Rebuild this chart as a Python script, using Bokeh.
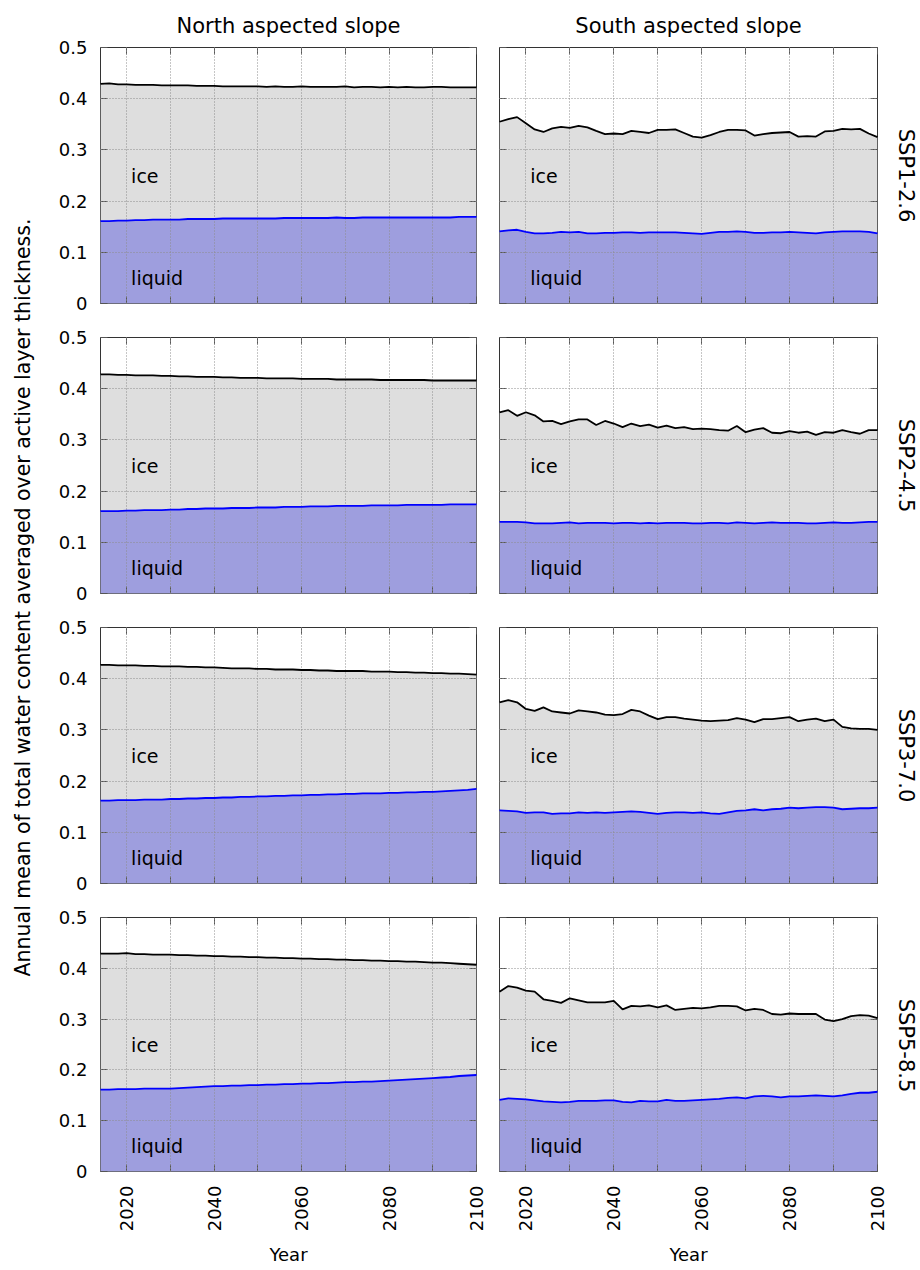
import numpy as np
from bokeh.plotting import figure
from bokeh.layouts import row, column
from bokeh.models import (Range1d, FixedTicker, LinearAxis, Label,
                          ColumnDataSource)
from bokeh.core.properties import value
from bokeh.embed import file_html
from bokeh.resources import INLINE

# ---------------- data ----------------
years = list(range(2014, 2101, 2))
scenarios = ["SSP1-2.6", "SSP2-4.5", "SSP3-7.0", "SSP5-8.5"]
slopes = ["North aspected slope", "South aspected slope"]
x_ticks = [2020, 2040, 2060, 2080, 2100]
x_minor_ticks = [2030, 2050, 2070, 2090]
y_ticks = [0, 0.1, 0.2, 0.3, 0.4, 0.5]
y_label = "Annual mean of total water content averaged over active layer thickness."
x_label = "Year"
area_labels = ["ice", "liquid"]

# SSP1-2.6
north_total_126 = [0.429, 0.430, 0.428, 0.428, 0.427, 0.427, 0.427, 0.426, 0.426, 0.426, 0.426,
                   0.425, 0.425, 0.425, 0.424, 0.424, 0.424, 0.424, 0.424, 0.423, 0.424, 0.423,
                   0.423, 0.424, 0.423, 0.423, 0.423, 0.423, 0.424, 0.422, 0.423, 0.423, 0.422,
                   0.423, 0.422, 0.423, 0.422, 0.422, 0.423, 0.423, 0.422, 0.422, 0.422, 0.422]
north_liquid_126 = [0.161, 0.161, 0.162, 0.162, 0.163, 0.163, 0.164, 0.164, 0.164, 0.164, 0.165,
                    0.165, 0.165, 0.165, 0.166, 0.166, 0.166, 0.166, 0.166, 0.166, 0.166, 0.167,
                    0.167, 0.167, 0.167, 0.167, 0.167, 0.168, 0.167, 0.167, 0.168, 0.168, 0.168,
                    0.168, 0.168, 0.168, 0.168, 0.168, 0.168, 0.168, 0.168, 0.169, 0.169, 0.169]
south_total_126 = [0.355, 0.360, 0.364, 0.352, 0.340, 0.335, 0.342, 0.345, 0.343, 0.347, 0.344,
                   0.337, 0.331, 0.332, 0.331, 0.337, 0.335, 0.333, 0.339, 0.339, 0.340, 0.333,
                   0.326, 0.324, 0.329, 0.335, 0.339, 0.339, 0.338, 0.328, 0.331, 0.333, 0.334,
                   0.335, 0.326, 0.327, 0.326, 0.336, 0.337, 0.341, 0.340, 0.341, 0.332, 0.325]
south_liquid_126 = [0.141, 0.143, 0.144, 0.140, 0.137, 0.137, 0.138, 0.140, 0.139, 0.140, 0.137,
                    0.137, 0.138, 0.138, 0.139, 0.139, 0.138, 0.139, 0.139, 0.139, 0.139, 0.138,
                    0.137, 0.136, 0.138, 0.140, 0.140, 0.141, 0.140, 0.138, 0.138, 0.139, 0.139,
                    0.140, 0.139, 0.138, 0.137, 0.139, 0.140, 0.141, 0.141, 0.141, 0.140, 0.137]

# SSP2-4.5
north_total_245 = [0.428, 0.428, 0.427, 0.427, 0.426, 0.426, 0.426, 0.425, 0.425, 0.424, 0.424,
                   0.423, 0.423, 0.423, 0.422, 0.422, 0.421, 0.421, 0.421, 0.420, 0.420, 0.420,
                   0.420, 0.419, 0.419, 0.419, 0.419, 0.418, 0.418, 0.418, 0.418, 0.418, 0.417,
                   0.417, 0.417, 0.417, 0.417, 0.417, 0.416, 0.416, 0.416, 0.416, 0.416, 0.416]
north_liquid_245 = [0.161, 0.161, 0.161, 0.162, 0.162, 0.163, 0.163, 0.163, 0.164, 0.164, 0.165,
                    0.165, 0.166, 0.166, 0.166, 0.167, 0.167, 0.167, 0.168, 0.168, 0.168, 0.169,
                    0.169, 0.169, 0.170, 0.170, 0.170, 0.171, 0.171, 0.171, 0.171, 0.172, 0.172,
                    0.172, 0.172, 0.173, 0.173, 0.173, 0.173, 0.173, 0.174, 0.174, 0.174, 0.174]
south_total_245 = [0.354, 0.358, 0.347, 0.354, 0.348, 0.336, 0.337, 0.331, 0.336, 0.340, 0.340,
                   0.329, 0.337, 0.332, 0.325, 0.332, 0.327, 0.330, 0.324, 0.328, 0.323, 0.325,
                   0.321, 0.322, 0.321, 0.319, 0.318, 0.327, 0.315, 0.320, 0.323, 0.314, 0.313,
                   0.317, 0.314, 0.316, 0.310, 0.315, 0.314, 0.319, 0.315, 0.312, 0.319, 0.319]
south_liquid_245 = [0.140, 0.140, 0.140, 0.139, 0.137, 0.137, 0.137, 0.138, 0.139, 0.137, 0.138,
                    0.138, 0.138, 0.137, 0.138, 0.138, 0.137, 0.138, 0.137, 0.138, 0.138, 0.138,
                    0.137, 0.137, 0.138, 0.138, 0.137, 0.139, 0.138, 0.137, 0.138, 0.139, 0.138,
                    0.138, 0.138, 0.137, 0.137, 0.138, 0.139, 0.138, 0.138, 0.139, 0.140, 0.140]

# SSP3-7.0
north_total_370 = [0.427, 0.427, 0.426, 0.426, 0.426, 0.425, 0.425, 0.424, 0.424, 0.424, 0.423,
                   0.423, 0.422, 0.422, 0.421, 0.420, 0.420, 0.420, 0.419, 0.419, 0.418, 0.418,
                   0.418, 0.417, 0.417, 0.416, 0.416, 0.415, 0.415, 0.415, 0.415, 0.414, 0.414,
                   0.414, 0.413, 0.413, 0.412, 0.412, 0.411, 0.411, 0.410, 0.410, 0.409, 0.408]
north_liquid_370 = [0.162, 0.162, 0.163, 0.163, 0.163, 0.164, 0.164, 0.164, 0.165, 0.165, 0.166,
                    0.166, 0.167, 0.167, 0.168, 0.168, 0.169, 0.169, 0.170, 0.170, 0.171, 0.171,
                    0.172, 0.172, 0.173, 0.173, 0.174, 0.174, 0.175, 0.175, 0.176, 0.176, 0.176,
                    0.177, 0.177, 0.178, 0.178, 0.179, 0.179, 0.180, 0.181, 0.182, 0.183, 0.185]
south_total_370 = [0.354, 0.358, 0.354, 0.341, 0.337, 0.344, 0.336, 0.334, 0.332, 0.338, 0.336,
                   0.334, 0.330, 0.329, 0.331, 0.339, 0.336, 0.328, 0.321, 0.325, 0.325, 0.322,
                   0.320, 0.318, 0.317, 0.318, 0.319, 0.323, 0.320, 0.315, 0.321, 0.321, 0.323,
                   0.325, 0.317, 0.320, 0.322, 0.317, 0.320, 0.306, 0.303, 0.302, 0.302, 0.300]
south_liquid_370 = [0.143, 0.142, 0.141, 0.138, 0.139, 0.139, 0.136, 0.137, 0.137, 0.139, 0.138,
                    0.139, 0.138, 0.139, 0.140, 0.141, 0.140, 0.138, 0.136, 0.138, 0.139, 0.139,
                    0.138, 0.139, 0.137, 0.136, 0.139, 0.142, 0.143, 0.145, 0.143, 0.145, 0.146,
                    0.148, 0.147, 0.148, 0.149, 0.149, 0.148, 0.145, 0.146, 0.147, 0.147, 0.148]

# SSP5-8.5
north_total_585 = [0.429, 0.429, 0.429, 0.430, 0.428, 0.428, 0.427, 0.427, 0.427, 0.426, 0.426,
                   0.425, 0.425, 0.424, 0.424, 0.423, 0.423, 0.422, 0.422, 0.421, 0.421, 0.420,
                   0.420, 0.419, 0.419, 0.418, 0.418, 0.417, 0.417, 0.416, 0.416, 0.415, 0.415,
                   0.414, 0.414, 0.413, 0.413, 0.412, 0.411, 0.411, 0.410, 0.409, 0.408, 0.407]
north_liquid_585 = [0.161, 0.161, 0.162, 0.162, 0.162, 0.163, 0.163, 0.163, 0.163, 0.164, 0.165,
                    0.166, 0.167, 0.168, 0.168, 0.169, 0.169, 0.170, 0.170, 0.171, 0.171, 0.172,
                    0.172, 0.173, 0.173, 0.174, 0.174, 0.175, 0.176, 0.176, 0.177, 0.177, 0.178,
                    0.179, 0.180, 0.181, 0.182, 0.183, 0.184, 0.185, 0.186, 0.188, 0.189, 0.190]
south_total_585 = [0.354, 0.365, 0.362, 0.356, 0.354, 0.339, 0.336, 0.332, 0.341, 0.337, 0.333,
                   0.333, 0.333, 0.336, 0.319, 0.326, 0.325, 0.327, 0.323, 0.327, 0.318, 0.320,
                   0.322, 0.321, 0.323, 0.326, 0.326, 0.325, 0.317, 0.320, 0.318, 0.310, 0.309,
                   0.311, 0.310, 0.310, 0.310, 0.299, 0.296, 0.300, 0.306, 0.308, 0.307, 0.302]
south_liquid_585 = [0.141, 0.144, 0.143, 0.142, 0.140, 0.138, 0.137, 0.136, 0.137, 0.139, 0.139,
                    0.139, 0.140, 0.140, 0.137, 0.136, 0.139, 0.138, 0.138, 0.141, 0.139, 0.139,
                    0.140, 0.141, 0.142, 0.143, 0.145, 0.146, 0.144, 0.148, 0.149, 0.148, 0.146,
                    0.148, 0.148, 0.149, 0.150, 0.149, 0.148, 0.150, 0.153, 0.155, 0.155, 0.157]

series = {
    ("SSP1-2.6", 0): (north_total_126, north_liquid_126),
    ("SSP1-2.6", 1): (south_total_126, south_liquid_126),
    ("SSP2-4.5", 0): (north_total_245, north_liquid_245),
    ("SSP2-4.5", 1): (south_total_245, south_liquid_245),
    ("SSP3-7.0", 0): (north_total_370, north_liquid_370),
    ("SSP3-7.0", 1): (south_total_370, south_liquid_370),
    ("SSP5-8.5", 0): (north_total_585, north_liquid_585),
    ("SSP5-8.5", 1): (south_total_585, south_liquid_585),
}
for k, (a, b) in series.items():
    assert len(a) == len(years) and len(b) == len(years), k

# ---------------- style ----------------
FONT = "DejaVu Sans"
GRAY_FILL = "#dedede"
BLUE_FILL = "#9e9ede"
TICK_COLOR = "#555555"
FRAME_COLOR = "#333333"
GRID_COLOR = "#8c8c8c"

LABEL_W = 48
FRAME_H = 256
LEFT_BL, LEFT_FW, LEFT_BR = 52, 376, 11
RIGHT_BL, RIGHT_FW, RIGHT_BR = 12, 378, 12
SSP_W = 30
TOP_B, GAP_B, BOT_B = 47, 17, 95


def style_axis(ax, show_labels, dim):
    ax.axis_line_color = None
    ax.major_tick_in = 7
    ax.major_tick_out = 0
    ax.minor_tick_in = 7
    ax.minor_tick_out = 0
    ax.major_tick_line_color = TICK_COLOR
    ax.minor_tick_line_color = TICK_COLOR
    ax.major_label_text_font = FONT
    ax.major_label_text_color = "#000000"
    ax.axis_label_text_font = FONT
    ax.axis_label_text_font_style = "normal"
    ax.axis_label_text_font_size = "18px"
    ax.axis_label_text_color = "#000000"
    if show_labels:
        ax.major_label_text_font_size = "18px"
        ax.major_label_standoff = 14 if dim == "x" else 13
    else:
        ax.major_label_text_font_size = "0px"
        ax.major_label_standoff = 0
        ticks = x_ticks if dim == "x" else y_ticks
        ax.major_label_overrides = {t: "" for t in ticks}


def borders(r):
    b_top = TOP_B if r == 0 else GAP_B
    b_bot = BOT_B if r == len(scenarios) - 1 else GAP_B
    return b_top, b_bot


def make_panel(r, c):
    scen = scenarios[r]
    total, liquid = series[(scen, c)]
    last = (r == len(scenarios) - 1)
    top = (r == 0)
    bl, fw, br = (LEFT_BL, LEFT_FW, LEFT_BR) if c == 0 else (RIGHT_BL, RIGHT_FW, RIGHT_BR)
    b_top, b_bot = borders(r)

    p = figure(width=bl + fw + br, height=b_top + FRAME_H + b_bot,
               output_backend="svg", toolbar_location=None,
               x_range=Range1d(2014, 2100), y_range=Range1d(0, 0.5),
               min_border_left=bl, min_border_right=br,
               min_border_top=b_top, min_border_bottom=b_bot)
    p.outline_line_color = FRAME_COLOR
    p.outline_line_width = 1
    p.background_fill_color = "white"
    p.border_fill_color = "white"

    src = ColumnDataSource(dict(year=years, total=total, liquid=liquid))
    p.varea(x="year", y1=0, y2="total", source=src, fill_color=GRAY_FILL)
    p.varea(x="year", y1=0, y2="liquid", source=src, fill_color=BLUE_FILL)
    l1 = p.line(x="year", y="total", source=src, line_color="#000000", line_width=1.8)
    l2 = p.line(x="year", y="liquid", source=src, line_color="#0000ff", line_width=1.8)
    l1.level = "annotation"
    l2.level = "annotation"

    t1 = p.text(x=[2021], y=[0.25], text=[area_labels[0]], text_font=value(FONT),
                text_font_size="19px", text_baseline="middle", text_align="left",
                text_color="#000000")
    t2 = p.text(x=[2021], y=[0.05], text=[area_labels[1]], text_font=value(FONT),
                text_font_size="19px", text_baseline="middle", text_align="left",
                text_color="#000000")
    t1.level = "annotation"
    t2.level = "annotation"

    xt = FixedTicker(ticks=x_ticks, minor_ticks=x_minor_ticks)
    yt = FixedTicker(ticks=y_ticks, minor_ticks=[])

    xa = p.xaxis[0]
    xa.ticker = xt
    style_axis(xa, last, "x")
    if last:
        xa.major_label_orientation = np.pi / 2
        xa.axis_label = x_label
        xa.axis_label_standoff = 10

    ya = p.yaxis[0]
    ya.ticker = yt
    style_axis(ya, c == 0, "y")
    if c == 0:
        ya.major_label_overrides = {0: "0"}

    xtop = LinearAxis(ticker=FixedTicker(ticks=x_ticks, minor_ticks=x_minor_ticks))
    style_axis(xtop, False, "x")
    p.add_layout(xtop, "above")
    yright = LinearAxis(ticker=FixedTicker(ticks=y_ticks, minor_ticks=[]))
    style_axis(yright, False, "y")
    p.add_layout(yright, "right")

    for g in (p.xgrid[0], p.ygrid[0]):
        g.grid_line_color = GRID_COLOR
        g.grid_line_dash = "1 2"
        g.grid_line_width = 1
        g.level = "guide"
    p.xgrid[0].ticker = xt
    p.ygrid[0].ticker = yt
    p.xgrid[0].minor_grid_line_color = GRID_COLOR
    p.xgrid[0].minor_grid_line_dash = "1 2"
    p.xgrid[0].minor_grid_line_width = 1

    if top:
        p.title.text = slopes[c]
        p.title.text_font = FONT
        p.title.text_font_size = "21px"
        p.title.text_font_style = "normal"
        p.title.text_color = "#000000"
        p.title.align = "center"
        p.title.standoff = 20
    return p


def strip_figure(width, height):
    s = figure(width=width, height=height, output_backend="svg", toolbar_location=None,
               x_range=Range1d(0, width), y_range=Range1d(0, height),
               x_axis_location=None, y_axis_location=None,
               min_border=0, min_border_left=0, min_border_right=0,
               min_border_top=0, min_border_bottom=0)
    s.outline_line_color = None
    s.grid.visible = False
    return s


rows = []
row_heights = []
for r in range(len(scenarios)):
    rows.append(row(make_panel(r, 0), make_panel(r, 1)))
    b_top, b_bot = borders(r)
    row_heights.append(b_top + FRAME_H + b_bot)
grid = column(*rows)
total_h = sum(row_heights)

# y-axis title strip (left)
lab = strip_figure(LABEL_W, total_h)
lab.add_layout(Label(x=22, y=total_h - 597, text=y_label, angle=np.pi / 2,
                     text_align="center", text_baseline="middle",
                     text_font=FONT, text_font_size="20.5px", text_color="#000000"))

# scenario names strip (right), one per row, centred on each panel row
ssp = strip_figure(SSP_W, total_h)
top_acc = 0
for r in range(len(scenarios)):
    b_top, b_bot = borders(r)
    centre_from_top = top_acc + b_top + FRAME_H / 2
    ssp.add_layout(Label(x=16, y=total_h - centre_from_top, text=scenarios[r],
                         angle=-np.pi / 2, text_align="center", text_baseline="middle",
                         text_font=FONT, text_font_size="21px", text_color="#000000"))
    top_acc += row_heights[r]

layout = row(lab, grid, ssp)

open("out.html", "w").write(file_html(layout, INLINE))
